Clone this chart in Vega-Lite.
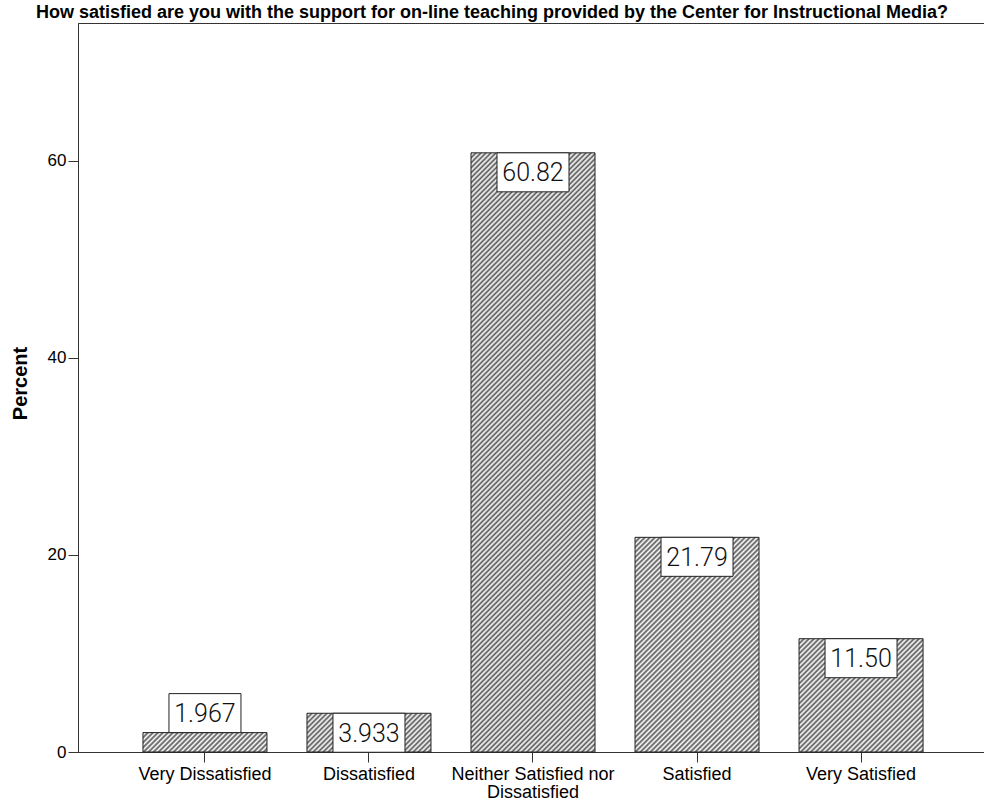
{
  "$schema": "https://vega.github.io/schema/vega-lite/v6.json",
  "width": 910,
  "height": 729,
  "autosize": {"type": "none"},
  "padding": {"left": 78, "top": 23, "right": 0, "bottom": 53},
  "background": "white",
  "title": {
    "text": "How satisfied are you with the support for on-line teaching provided by the Center for Instructional Media?",
    "font": "Liberation Sans",
    "fontSize": 18,
    "fontWeight": "bold",
    "color": "#000",
    "anchor": "middle",
    "dx": -41,
    "baseline": "alphabetic",
    "offset": -13
  },
  "config": {
    "view": {"stroke": "#333", "strokeWidth": 1},
    "axis": {
      "domainColor": "#333",
      "tickColor": "#333",
      "labelColor": "#000",
      "labelFont": "Liberation Sans",
      "labelFontSize": 17,
      "grid": false,
      "tickSize": 10
    }
  },
  "data": {
    "values": [
      {"label": "Very Dissatisfied", "value": 1.967},
      {"label": "Dissatisfied", "value": 3.933},
      {"label": "Neither Satisfied nor Dissatisfied", "value": 60.82},
      {"label": "Satisfied", "value": 21.79},
      {"label": "Very Satisfied", "value": 11.50}
    ]
  },
  "encoding": {
    "x": {
      "field": "label",
      "type": "nominal",
      "sort": null,
      "scale": {
        "domain": ["Very Dissatisfied", "Dissatisfied", "Neither Satisfied nor Dissatisfied", "Satisfied", "Very Satisfied"],
        "paddingInner": 0.244,
        "paddingOuter": 0.396
      },
      "axis": {
        "title": null,
        "labelAngle": 0,
        "labelPadding": 3,
        "labelFontSize": 18,
        "labelLineHeight": 18,
        "labelExpr": "datum.label == 'Neither Satisfied nor Dissatisfied' ? ['Neither Satisfied nor', 'Dissatisfied'] : datum.label"
      }
    },
    "y": {
      "field": "value",
      "type": "quantitative",
      "scale": {"domain": [0, 74], "nice": false},
      "axis": {
        "title": "Percent",
        "titleFont": "Liberation Sans",
        "titleFontSize": 20,
        "titleFontWeight": "bold",
        "titleColor": "#000",
        "titleX": -52,
        "titleY": 360,
        "titleBaseline": "alphabetic",
        "titleAngle": -90,
        "values": [0, 20, 40, 60],
        "labelPadding": 2
      }
    }
  },
  "layer": [
    {
      "transform": [{"filter": "datum.label == 'Very Dissatisfied'"}],
      "mark": {"type": "bar", "stroke": "#222", "strokeWidth": 1, "fill": {"gradient": "linear", "x1": 0, "y1": 0, "x2": 7.872, "y2": 1.2302, "stops": [
{"offset":0,"color":"#555"},{"offset":0.0025,"color":"#fff"},{"offset":0.005,"color":"#555"},{"offset":0.0075,"color":"#fff"},
{"offset":0.01,"color":"#555"},{"offset":0.0125,"color":"#fff"},{"offset":0.015,"color":"#555"},{"offset":0.0175,"color":"#fff"},
{"offset":0.02,"color":"#555"},{"offset":0.0225,"color":"#fff"},{"offset":0.025,"color":"#555"},{"offset":0.0275,"color":"#fff"},
{"offset":0.03,"color":"#555"},{"offset":0.0325,"color":"#fff"},{"offset":0.035,"color":"#555"},{"offset":0.0375,"color":"#fff"},
{"offset":0.04,"color":"#555"},{"offset":0.0425,"color":"#fff"},{"offset":0.045,"color":"#555"},{"offset":0.0475,"color":"#fff"},
{"offset":0.05,"color":"#555"},{"offset":0.0525,"color":"#fff"},{"offset":0.055,"color":"#555"},{"offset":0.0575,"color":"#fff"},
{"offset":0.06,"color":"#555"},{"offset":0.0625,"color":"#fff"},{"offset":0.065,"color":"#555"},{"offset":0.0675,"color":"#fff"},
{"offset":0.07,"color":"#555"},{"offset":0.0725,"color":"#fff"},{"offset":0.075,"color":"#555"},{"offset":0.0775,"color":"#fff"},
{"offset":0.08,"color":"#555"},{"offset":0.0825,"color":"#fff"},{"offset":0.085,"color":"#555"},{"offset":0.0875,"color":"#fff"},
{"offset":0.09,"color":"#555"},{"offset":0.0925,"color":"#fff"},{"offset":0.095,"color":"#555"},{"offset":0.0975,"color":"#fff"},
{"offset":0.1,"color":"#555"},{"offset":0.1025,"color":"#fff"},{"offset":0.105,"color":"#555"},{"offset":0.1075,"color":"#fff"},
{"offset":0.11,"color":"#555"},{"offset":0.1125,"color":"#fff"},{"offset":0.115,"color":"#555"},{"offset":0.1175,"color":"#fff"},
{"offset":0.12,"color":"#555"},{"offset":0.1225,"color":"#fff"},{"offset":0.125,"color":"#555"},{"offset":0.1275,"color":"#fff"},
{"offset":0.13,"color":"#555"},{"offset":0.1325,"color":"#fff"},{"offset":0.135,"color":"#555"},{"offset":0.1375,"color":"#fff"},
{"offset":0.14,"color":"#555"},{"offset":0.1425,"color":"#fff"},{"offset":0.145,"color":"#555"}
      ]}}
    },
    {
      "transform": [{"filter": "datum.label == 'Dissatisfied'"}],
      "mark": {"type": "bar", "stroke": "#222", "strokeWidth": 1, "fill": {"gradient": "linear", "x1": 0, "y1": 0, "x2": 7.347, "y2": 2.2957, "stops": [
{"offset":0,"color":"#555"},{"offset":0.0025,"color":"#fff"},{"offset":0.005,"color":"#555"},{"offset":0.0075,"color":"#fff"},
{"offset":0.01,"color":"#555"},{"offset":0.0125,"color":"#fff"},{"offset":0.015,"color":"#555"},{"offset":0.0175,"color":"#fff"},
{"offset":0.02,"color":"#555"},{"offset":0.0225,"color":"#fff"},{"offset":0.025,"color":"#555"},{"offset":0.0275,"color":"#fff"},
{"offset":0.03,"color":"#555"},{"offset":0.0325,"color":"#fff"},{"offset":0.035,"color":"#555"},{"offset":0.0375,"color":"#fff"},
{"offset":0.04,"color":"#555"},{"offset":0.0425,"color":"#fff"},{"offset":0.045,"color":"#555"},{"offset":0.0475,"color":"#fff"},
{"offset":0.05,"color":"#555"},{"offset":0.0525,"color":"#fff"},{"offset":0.055,"color":"#555"},{"offset":0.0575,"color":"#fff"},
{"offset":0.06,"color":"#555"},{"offset":0.0625,"color":"#fff"},{"offset":0.065,"color":"#555"},{"offset":0.0675,"color":"#fff"},
{"offset":0.07,"color":"#555"},{"offset":0.0725,"color":"#fff"},{"offset":0.075,"color":"#555"},{"offset":0.0775,"color":"#fff"},
{"offset":0.08,"color":"#555"},{"offset":0.0825,"color":"#fff"},{"offset":0.085,"color":"#555"},{"offset":0.0875,"color":"#fff"},
{"offset":0.09,"color":"#555"},{"offset":0.0925,"color":"#fff"},{"offset":0.095,"color":"#555"},{"offset":0.0975,"color":"#fff"},
{"offset":0.1,"color":"#555"},{"offset":0.1025,"color":"#fff"},{"offset":0.105,"color":"#555"},{"offset":0.1075,"color":"#fff"},
{"offset":0.11,"color":"#555"},{"offset":0.1125,"color":"#fff"},{"offset":0.115,"color":"#555"},{"offset":0.1175,"color":"#fff"},
{"offset":0.12,"color":"#555"},{"offset":0.1225,"color":"#fff"},{"offset":0.125,"color":"#555"},{"offset":0.1275,"color":"#fff"},
{"offset":0.13,"color":"#555"},{"offset":0.1325,"color":"#fff"},{"offset":0.135,"color":"#555"},{"offset":0.1375,"color":"#fff"},
{"offset":0.14,"color":"#555"},{"offset":0.1425,"color":"#fff"},{"offset":0.145,"color":"#555"},{"offset":0.1475,"color":"#fff"},
{"offset":0.15,"color":"#555"},{"offset":0.1525,"color":"#fff"},{"offset":0.155,"color":"#555"},{"offset":0.1575,"color":"#fff"},
{"offset":0.16,"color":"#555"},{"offset":0.1625,"color":"#fff"},{"offset":0.165,"color":"#555"}
      ]}}
    },
    {
      "transform": [{"filter": "datum.label == 'Neither Satisfied nor Dissatisfied'"}],
      "mark": {"type": "bar", "stroke": "#222", "strokeWidth": 1, "fill": {"gradient": "linear", "x1": 0, "y1": 0, "x2": 0.33122, "y2": 1.60046, "stops": [
{"offset":0,"color":"#555"},{"offset":0.0025,"color":"#fff"},{"offset":0.005,"color":"#555"},{"offset":0.0075,"color":"#fff"},
{"offset":0.01,"color":"#555"},{"offset":0.0125,"color":"#fff"},{"offset":0.015,"color":"#555"},{"offset":0.0175,"color":"#fff"},
{"offset":0.02,"color":"#555"},{"offset":0.0225,"color":"#fff"},{"offset":0.025,"color":"#555"},{"offset":0.0275,"color":"#fff"},
{"offset":0.03,"color":"#555"},{"offset":0.0325,"color":"#fff"},{"offset":0.035,"color":"#555"},{"offset":0.0375,"color":"#fff"},
{"offset":0.04,"color":"#555"},{"offset":0.0425,"color":"#fff"},{"offset":0.045,"color":"#555"},{"offset":0.0475,"color":"#fff"},
{"offset":0.05,"color":"#555"},{"offset":0.0525,"color":"#fff"},{"offset":0.055,"color":"#555"},{"offset":0.0575,"color":"#fff"},
{"offset":0.06,"color":"#555"},{"offset":0.0625,"color":"#fff"},{"offset":0.065,"color":"#555"},{"offset":0.0675,"color":"#fff"},
{"offset":0.07,"color":"#555"},{"offset":0.0725,"color":"#fff"},{"offset":0.075,"color":"#555"},{"offset":0.0775,"color":"#fff"},
{"offset":0.08,"color":"#555"},{"offset":0.0825,"color":"#fff"},{"offset":0.085,"color":"#555"},{"offset":0.0875,"color":"#fff"},
{"offset":0.09,"color":"#555"},{"offset":0.0925,"color":"#fff"},{"offset":0.095,"color":"#555"},{"offset":0.0975,"color":"#fff"},
{"offset":0.1,"color":"#555"},{"offset":0.1025,"color":"#fff"},{"offset":0.105,"color":"#555"},{"offset":0.1075,"color":"#fff"},
{"offset":0.11,"color":"#555"},{"offset":0.1125,"color":"#fff"},{"offset":0.115,"color":"#555"},{"offset":0.1175,"color":"#fff"},
{"offset":0.12,"color":"#555"},{"offset":0.1225,"color":"#fff"},{"offset":0.125,"color":"#555"},{"offset":0.1275,"color":"#fff"},
{"offset":0.13,"color":"#555"},{"offset":0.1325,"color":"#fff"},{"offset":0.135,"color":"#555"},{"offset":0.1375,"color":"#fff"},
{"offset":0.14,"color":"#555"},{"offset":0.1425,"color":"#fff"},{"offset":0.145,"color":"#555"},{"offset":0.1475,"color":"#fff"},
{"offset":0.15,"color":"#555"},{"offset":0.1525,"color":"#fff"},{"offset":0.155,"color":"#555"},{"offset":0.1575,"color":"#fff"},
{"offset":0.16,"color":"#555"},{"offset":0.1625,"color":"#fff"},{"offset":0.165,"color":"#555"},{"offset":0.1675,"color":"#fff"},
{"offset":0.17,"color":"#555"},{"offset":0.1725,"color":"#fff"},{"offset":0.175,"color":"#555"},{"offset":0.1775,"color":"#fff"},
{"offset":0.18,"color":"#555"},{"offset":0.1825,"color":"#fff"},{"offset":0.185,"color":"#555"},{"offset":0.1875,"color":"#fff"},
{"offset":0.19,"color":"#555"},{"offset":0.1925,"color":"#fff"},{"offset":0.195,"color":"#555"},{"offset":0.1975,"color":"#fff"},
{"offset":0.2,"color":"#555"},{"offset":0.2025,"color":"#fff"},{"offset":0.205,"color":"#555"},{"offset":0.2075,"color":"#fff"},
{"offset":0.21,"color":"#555"},{"offset":0.2125,"color":"#fff"},{"offset":0.215,"color":"#555"},{"offset":0.2175,"color":"#fff"},
{"offset":0.22,"color":"#555"},{"offset":0.2225,"color":"#fff"},{"offset":0.225,"color":"#555"},{"offset":0.2275,"color":"#fff"},
{"offset":0.23,"color":"#555"},{"offset":0.2325,"color":"#fff"},{"offset":0.235,"color":"#555"},{"offset":0.2375,"color":"#fff"},
{"offset":0.24,"color":"#555"},{"offset":0.2425,"color":"#fff"},{"offset":0.245,"color":"#555"},{"offset":0.2475,"color":"#fff"},
{"offset":0.25,"color":"#555"},{"offset":0.2525,"color":"#fff"},{"offset":0.255,"color":"#555"},{"offset":0.2575,"color":"#fff"},
{"offset":0.26,"color":"#555"},{"offset":0.2625,"color":"#fff"},{"offset":0.265,"color":"#555"},{"offset":0.2675,"color":"#fff"},
{"offset":0.27,"color":"#555"},{"offset":0.2725,"color":"#fff"},{"offset":0.275,"color":"#555"},{"offset":0.2775,"color":"#fff"},
{"offset":0.28,"color":"#555"},{"offset":0.2825,"color":"#fff"},{"offset":0.285,"color":"#555"},{"offset":0.2875,"color":"#fff"},
{"offset":0.29,"color":"#555"},{"offset":0.2925,"color":"#fff"},{"offset":0.295,"color":"#555"},{"offset":0.2975,"color":"#fff"},
{"offset":0.3,"color":"#555"},{"offset":0.3025,"color":"#fff"},{"offset":0.305,"color":"#555"},{"offset":0.3075,"color":"#fff"},
{"offset":0.31,"color":"#555"},{"offset":0.3125,"color":"#fff"},{"offset":0.315,"color":"#555"},{"offset":0.3175,"color":"#fff"},
{"offset":0.32,"color":"#555"},{"offset":0.3225,"color":"#fff"},{"offset":0.325,"color":"#555"},{"offset":0.3275,"color":"#fff"},
{"offset":0.33,"color":"#555"},{"offset":0.3325,"color":"#fff"},{"offset":0.335,"color":"#555"},{"offset":0.3375,"color":"#fff"},
{"offset":0.34,"color":"#555"},{"offset":0.3425,"color":"#fff"},{"offset":0.345,"color":"#555"},{"offset":0.3475,"color":"#fff"},
{"offset":0.35,"color":"#555"},{"offset":0.3525,"color":"#fff"},{"offset":0.355,"color":"#555"},{"offset":0.3575,"color":"#fff"},
{"offset":0.36,"color":"#555"},{"offset":0.3625,"color":"#fff"},{"offset":0.365,"color":"#555"},{"offset":0.3675,"color":"#fff"},
{"offset":0.37,"color":"#555"},{"offset":0.3725,"color":"#fff"},{"offset":0.375,"color":"#555"},{"offset":0.3775,"color":"#fff"},
{"offset":0.38,"color":"#555"},{"offset":0.3825,"color":"#fff"},{"offset":0.385,"color":"#555"},{"offset":0.3875,"color":"#fff"},
{"offset":0.39,"color":"#555"},{"offset":0.3925,"color":"#fff"},{"offset":0.395,"color":"#555"},{"offset":0.3975,"color":"#fff"},
{"offset":0.4,"color":"#555"},{"offset":0.4025,"color":"#fff"},{"offset":0.405,"color":"#555"},{"offset":0.4075,"color":"#fff"},
{"offset":0.41,"color":"#555"},{"offset":0.4125,"color":"#fff"},{"offset":0.415,"color":"#555"},{"offset":0.4175,"color":"#fff"},
{"offset":0.42,"color":"#555"},{"offset":0.4225,"color":"#fff"},{"offset":0.425,"color":"#555"},{"offset":0.4275,"color":"#fff"},
{"offset":0.43,"color":"#555"},{"offset":0.4325,"color":"#fff"},{"offset":0.435,"color":"#555"},{"offset":0.4375,"color":"#fff"},
{"offset":0.44,"color":"#555"},{"offset":0.4425,"color":"#fff"},{"offset":0.445,"color":"#555"},{"offset":0.4475,"color":"#fff"},
{"offset":0.45,"color":"#555"},{"offset":0.4525,"color":"#fff"},{"offset":0.455,"color":"#555"},{"offset":0.4575,"color":"#fff"},
{"offset":0.46,"color":"#555"},{"offset":0.4625,"color":"#fff"},{"offset":0.465,"color":"#555"},{"offset":0.4675,"color":"#fff"},
{"offset":0.47,"color":"#555"},{"offset":0.4725,"color":"#fff"},{"offset":0.475,"color":"#555"},{"offset":0.4775,"color":"#fff"},
{"offset":0.48,"color":"#555"},{"offset":0.4825,"color":"#fff"},{"offset":0.485,"color":"#555"},{"offset":0.4875,"color":"#fff"},
{"offset":0.49,"color":"#555"},{"offset":0.4925,"color":"#fff"},{"offset":0.495,"color":"#555"},{"offset":0.4975,"color":"#fff"},
{"offset":0.5,"color":"#555"},{"offset":0.5025,"color":"#fff"},{"offset":0.505,"color":"#555"},{"offset":0.5075,"color":"#fff"},
{"offset":0.51,"color":"#555"},{"offset":0.5125,"color":"#fff"},{"offset":0.515,"color":"#555"},{"offset":0.5175,"color":"#fff"},
{"offset":0.52,"color":"#555"},{"offset":0.5225,"color":"#fff"},{"offset":0.525,"color":"#555"},{"offset":0.5275,"color":"#fff"},
{"offset":0.53,"color":"#555"},{"offset":0.5325,"color":"#fff"},{"offset":0.535,"color":"#555"},{"offset":0.5375,"color":"#fff"},
{"offset":0.54,"color":"#555"},{"offset":0.5425,"color":"#fff"},{"offset":0.545,"color":"#555"},{"offset":0.5475,"color":"#fff"},
{"offset":0.55,"color":"#555"},{"offset":0.5525,"color":"#fff"},{"offset":0.555,"color":"#555"},{"offset":0.5575,"color":"#fff"},
{"offset":0.56,"color":"#555"},{"offset":0.5625,"color":"#fff"},{"offset":0.565,"color":"#555"},{"offset":0.5675,"color":"#fff"},
{"offset":0.57,"color":"#555"},{"offset":0.5725,"color":"#fff"},{"offset":0.575,"color":"#555"},{"offset":0.5775,"color":"#fff"},
{"offset":0.58,"color":"#555"},{"offset":0.5825,"color":"#fff"},{"offset":0.585,"color":"#555"},{"offset":0.5875,"color":"#fff"},
{"offset":0.59,"color":"#555"},{"offset":0.5925,"color":"#fff"},{"offset":0.595,"color":"#555"},{"offset":0.5975,"color":"#fff"},
{"offset":0.6,"color":"#555"},{"offset":0.6025,"color":"#fff"},{"offset":0.605,"color":"#555"},{"offset":0.6075,"color":"#fff"},
{"offset":0.61,"color":"#555"},{"offset":0.6125,"color":"#fff"},{"offset":0.615,"color":"#555"},{"offset":0.6175,"color":"#fff"},
{"offset":0.62,"color":"#555"},{"offset":0.6225,"color":"#fff"},{"offset":0.625,"color":"#555"},{"offset":0.6275,"color":"#fff"},
{"offset":0.63,"color":"#555"},{"offset":0.6325,"color":"#fff"},{"offset":0.635,"color":"#555"},{"offset":0.6375,"color":"#fff"},
{"offset":0.64,"color":"#555"},{"offset":0.6425,"color":"#fff"},{"offset":0.645,"color":"#555"},{"offset":0.6475,"color":"#fff"},
{"offset":0.65,"color":"#555"},{"offset":0.6525,"color":"#fff"},{"offset":0.655,"color":"#555"},{"offset":0.6575,"color":"#fff"},
{"offset":0.66,"color":"#555"},{"offset":0.6625,"color":"#fff"},{"offset":0.665,"color":"#555"},{"offset":0.6675,"color":"#fff"},
{"offset":0.67,"color":"#555"},{"offset":0.6725,"color":"#fff"},{"offset":0.675,"color":"#555"},{"offset":0.6775,"color":"#fff"},
{"offset":0.68,"color":"#555"},{"offset":0.6825,"color":"#fff"},{"offset":0.685,"color":"#555"},{"offset":0.6875,"color":"#fff"},
{"offset":0.69,"color":"#555"},{"offset":0.6925,"color":"#fff"},{"offset":0.695,"color":"#555"},{"offset":0.6975,"color":"#fff"},
{"offset":0.7,"color":"#555"},{"offset":0.7025,"color":"#fff"},{"offset":0.705,"color":"#555"},{"offset":0.7075,"color":"#fff"},
{"offset":0.71,"color":"#555"},{"offset":0.7125,"color":"#fff"},{"offset":0.715,"color":"#555"},{"offset":0.7175,"color":"#fff"},
{"offset":0.72,"color":"#555"},{"offset":0.7225,"color":"#fff"},{"offset":0.725,"color":"#555"}
      ]}}
    },
    {
      "transform": [{"filter": "datum.label == 'Satisfied'"}],
      "mark": {"type": "bar", "stroke": "#222", "strokeWidth": 1, "fill": {"gradient": "linear", "x1": 0, "y1": 0, "x2": 2.0178, "y2": 3.493, "stops": [
{"offset":0,"color":"#555"},{"offset":0.0025,"color":"#fff"},{"offset":0.005,"color":"#555"},{"offset":0.0075,"color":"#fff"},
{"offset":0.01,"color":"#555"},{"offset":0.0125,"color":"#fff"},{"offset":0.015,"color":"#555"},{"offset":0.0175,"color":"#fff"},
{"offset":0.02,"color":"#555"},{"offset":0.0225,"color":"#fff"},{"offset":0.025,"color":"#555"},{"offset":0.0275,"color":"#fff"},
{"offset":0.03,"color":"#555"},{"offset":0.0325,"color":"#fff"},{"offset":0.035,"color":"#555"},{"offset":0.0375,"color":"#fff"},
{"offset":0.04,"color":"#555"},{"offset":0.0425,"color":"#fff"},{"offset":0.045,"color":"#555"},{"offset":0.0475,"color":"#fff"},
{"offset":0.05,"color":"#555"},{"offset":0.0525,"color":"#fff"},{"offset":0.055,"color":"#555"},{"offset":0.0575,"color":"#fff"},
{"offset":0.06,"color":"#555"},{"offset":0.0625,"color":"#fff"},{"offset":0.065,"color":"#555"},{"offset":0.0675,"color":"#fff"},
{"offset":0.07,"color":"#555"},{"offset":0.0725,"color":"#fff"},{"offset":0.075,"color":"#555"},{"offset":0.0775,"color":"#fff"},
{"offset":0.08,"color":"#555"},{"offset":0.0825,"color":"#fff"},{"offset":0.085,"color":"#555"},{"offset":0.0875,"color":"#fff"},
{"offset":0.09,"color":"#555"},{"offset":0.0925,"color":"#fff"},{"offset":0.095,"color":"#555"},{"offset":0.0975,"color":"#fff"},
{"offset":0.1,"color":"#555"},{"offset":0.1025,"color":"#fff"},{"offset":0.105,"color":"#555"},{"offset":0.1075,"color":"#fff"},
{"offset":0.11,"color":"#555"},{"offset":0.1125,"color":"#fff"},{"offset":0.115,"color":"#555"},{"offset":0.1175,"color":"#fff"},
{"offset":0.12,"color":"#555"},{"offset":0.1225,"color":"#fff"},{"offset":0.125,"color":"#555"},{"offset":0.1275,"color":"#fff"},
{"offset":0.13,"color":"#555"},{"offset":0.1325,"color":"#fff"},{"offset":0.135,"color":"#555"},{"offset":0.1375,"color":"#fff"},
{"offset":0.14,"color":"#555"},{"offset":0.1425,"color":"#fff"},{"offset":0.145,"color":"#555"},{"offset":0.1475,"color":"#fff"},
{"offset":0.15,"color":"#555"},{"offset":0.1525,"color":"#fff"},{"offset":0.155,"color":"#555"},{"offset":0.1575,"color":"#fff"},
{"offset":0.16,"color":"#555"},{"offset":0.1625,"color":"#fff"},{"offset":0.165,"color":"#555"},{"offset":0.1675,"color":"#fff"},
{"offset":0.17,"color":"#555"},{"offset":0.1725,"color":"#fff"},{"offset":0.175,"color":"#555"},{"offset":0.1775,"color":"#fff"},
{"offset":0.18,"color":"#555"},{"offset":0.1825,"color":"#fff"},{"offset":0.185,"color":"#555"},{"offset":0.1875,"color":"#fff"},
{"offset":0.19,"color":"#555"},{"offset":0.1925,"color":"#fff"},{"offset":0.195,"color":"#555"},{"offset":0.1975,"color":"#fff"},
{"offset":0.2,"color":"#555"},{"offset":0.2025,"color":"#fff"},{"offset":0.205,"color":"#555"},{"offset":0.2075,"color":"#fff"},
{"offset":0.21,"color":"#555"},{"offset":0.2125,"color":"#fff"},{"offset":0.215,"color":"#555"},{"offset":0.2175,"color":"#fff"},
{"offset":0.22,"color":"#555"},{"offset":0.2225,"color":"#fff"},{"offset":0.225,"color":"#555"},{"offset":0.2275,"color":"#fff"},
{"offset":0.23,"color":"#555"},{"offset":0.2325,"color":"#fff"},{"offset":0.235,"color":"#555"},{"offset":0.2375,"color":"#fff"},
{"offset":0.24,"color":"#555"},{"offset":0.2425,"color":"#fff"},{"offset":0.245,"color":"#555"},{"offset":0.2475,"color":"#fff"},
{"offset":0.25,"color":"#555"},{"offset":0.2525,"color":"#fff"},{"offset":0.255,"color":"#555"},{"offset":0.2575,"color":"#fff"},
{"offset":0.26,"color":"#555"},{"offset":0.2625,"color":"#fff"},{"offset":0.265,"color":"#555"},{"offset":0.2675,"color":"#fff"},
{"offset":0.27,"color":"#555"},{"offset":0.2725,"color":"#fff"},{"offset":0.275,"color":"#555"},{"offset":0.2775,"color":"#fff"},
{"offset":0.28,"color":"#555"},{"offset":0.2825,"color":"#fff"},{"offset":0.285,"color":"#555"},{"offset":0.2875,"color":"#fff"},
{"offset":0.29,"color":"#555"},{"offset":0.2925,"color":"#fff"},{"offset":0.295,"color":"#555"},{"offset":0.2975,"color":"#fff"},
{"offset":0.3,"color":"#555"},{"offset":0.3025,"color":"#fff"},{"offset":0.305,"color":"#555"},{"offset":0.3075,"color":"#fff"},
{"offset":0.31,"color":"#555"},{"offset":0.3125,"color":"#fff"},{"offset":0.315,"color":"#555"},{"offset":0.3175,"color":"#fff"},
{"offset":0.32,"color":"#555"},{"offset":0.3225,"color":"#fff"},{"offset":0.325,"color":"#555"},{"offset":0.3275,"color":"#fff"},
{"offset":0.33,"color":"#555"},{"offset":0.3325,"color":"#fff"},{"offset":0.335,"color":"#555"},{"offset":0.3375,"color":"#fff"},
{"offset":0.34,"color":"#555"}
      ]}}
    },
    {
      "transform": [{"filter": "datum.label == 'Very Satisfied'"}],
      "mark": {"type": "bar", "stroke": "#222", "strokeWidth": 1, "fill": {"gradient": "linear", "x1": 0, "y1": 0, "x2": 4.3955, "y2": 4.0159, "stops": [
{"offset":0,"color":"#555"},{"offset":0.0025,"color":"#fff"},{"offset":0.005,"color":"#555"},{"offset":0.0075,"color":"#fff"},
{"offset":0.01,"color":"#555"},{"offset":0.0125,"color":"#fff"},{"offset":0.015,"color":"#555"},{"offset":0.0175,"color":"#fff"},
{"offset":0.02,"color":"#555"},{"offset":0.0225,"color":"#fff"},{"offset":0.025,"color":"#555"},{"offset":0.0275,"color":"#fff"},
{"offset":0.03,"color":"#555"},{"offset":0.0325,"color":"#fff"},{"offset":0.035,"color":"#555"},{"offset":0.0375,"color":"#fff"},
{"offset":0.04,"color":"#555"},{"offset":0.0425,"color":"#fff"},{"offset":0.045,"color":"#555"},{"offset":0.0475,"color":"#fff"},
{"offset":0.05,"color":"#555"},{"offset":0.0525,"color":"#fff"},{"offset":0.055,"color":"#555"},{"offset":0.0575,"color":"#fff"},
{"offset":0.06,"color":"#555"},{"offset":0.0625,"color":"#fff"},{"offset":0.065,"color":"#555"},{"offset":0.0675,"color":"#fff"},
{"offset":0.07,"color":"#555"},{"offset":0.0725,"color":"#fff"},{"offset":0.075,"color":"#555"},{"offset":0.0775,"color":"#fff"},
{"offset":0.08,"color":"#555"},{"offset":0.0825,"color":"#fff"},{"offset":0.085,"color":"#555"},{"offset":0.0875,"color":"#fff"},
{"offset":0.09,"color":"#555"},{"offset":0.0925,"color":"#fff"},{"offset":0.095,"color":"#555"},{"offset":0.0975,"color":"#fff"},
{"offset":0.1,"color":"#555"},{"offset":0.1025,"color":"#fff"},{"offset":0.105,"color":"#555"},{"offset":0.1075,"color":"#fff"},
{"offset":0.11,"color":"#555"},{"offset":0.1125,"color":"#fff"},{"offset":0.115,"color":"#555"},{"offset":0.1175,"color":"#fff"},
{"offset":0.12,"color":"#555"},{"offset":0.1225,"color":"#fff"},{"offset":0.125,"color":"#555"},{"offset":0.1275,"color":"#fff"},
{"offset":0.13,"color":"#555"},{"offset":0.1325,"color":"#fff"},{"offset":0.135,"color":"#555"},{"offset":0.1375,"color":"#fff"},
{"offset":0.14,"color":"#555"},{"offset":0.1425,"color":"#fff"},{"offset":0.145,"color":"#555"},{"offset":0.1475,"color":"#fff"},
{"offset":0.15,"color":"#555"},{"offset":0.1525,"color":"#fff"},{"offset":0.155,"color":"#555"},{"offset":0.1575,"color":"#fff"},
{"offset":0.16,"color":"#555"},{"offset":0.1625,"color":"#fff"},{"offset":0.165,"color":"#555"},{"offset":0.1675,"color":"#fff"},
{"offset":0.17,"color":"#555"},{"offset":0.1725,"color":"#fff"},{"offset":0.175,"color":"#555"},{"offset":0.1775,"color":"#fff"},
{"offset":0.18,"color":"#555"},{"offset":0.1825,"color":"#fff"},{"offset":0.185,"color":"#555"},{"offset":0.1875,"color":"#fff"},
{"offset":0.19,"color":"#555"},{"offset":0.1925,"color":"#fff"},{"offset":0.195,"color":"#555"},{"offset":0.1975,"color":"#fff"},
{"offset":0.2,"color":"#555"},{"offset":0.2025,"color":"#fff"},{"offset":0.205,"color":"#555"},{"offset":0.2075,"color":"#fff"},
{"offset":0.21,"color":"#555"},{"offset":0.2125,"color":"#fff"},{"offset":0.215,"color":"#555"},{"offset":0.2175,"color":"#fff"},
{"offset":0.22,"color":"#555"},{"offset":0.2225,"color":"#fff"},{"offset":0.225,"color":"#555"},{"offset":0.2275,"color":"#fff"},
{"offset":0.23,"color":"#555"},{"offset":0.2325,"color":"#fff"},{"offset":0.235,"color":"#555"},{"offset":0.2375,"color":"#fff"},
{"offset":0.24,"color":"#555"}
      ]}}
    },
    {
      "mark": {
        "type": "point",
        "shape": "M-1,-0.5417L1,-0.5417L1,0.5417L-1,0.5417Z",
        "size": 5184,
        "filled": true,
        "fill": "white",
        "fillOpacity": 1,
        "stroke": "#222",
        "strokeWidth": 1,
        "opacity": 1,
        "yOffset": {"expr": "datum.value < 3 ? -19.5 : 19.5"}
      }
    },
    {
      "mark": {
        "type": "text",
        "font": "Roboto",
        "fontWeight": 300,
        "fontSize": 25,
        "color": "#111",
        "baseline": "middle",
        "align": "center",
        "yOffset": {"expr": "datum.value < 3 ? -18.5 : 20.5"}
      },
      "encoding": {
        "text": {"field": "value", "type": "quantitative", "format": ".4r"}
      }
    }
  ]
}
